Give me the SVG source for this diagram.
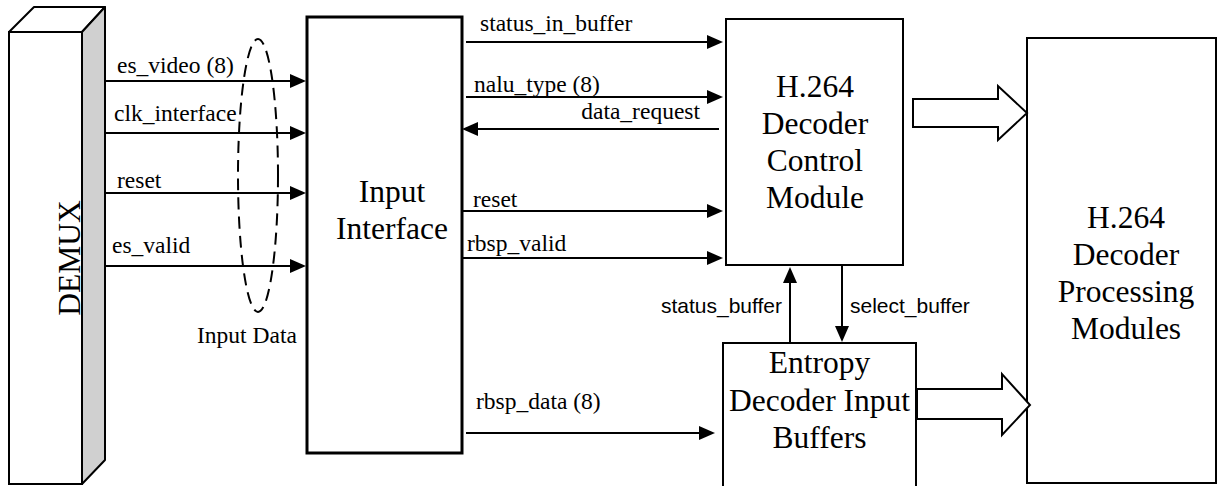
<svg xmlns="http://www.w3.org/2000/svg" width="1219" height="486" viewBox="0 0 1219 486">
  <style>
    .box { fill: #ffffff; stroke: #000000; stroke-width: 2; }
    .thick { stroke-width: 3; }
    .big { font-family: "Liberation Serif", "Times New Roman", serif; font-size: 31.5px; fill: #000; text-anchor: middle; }
    .lbl { font-family: "Liberation Serif", "Times New Roman", serif; font-size: 23.5px; fill: #000; }
    .sans { font-family: "Liberation Sans", Arial, sans-serif; font-size: 21px; fill: #000; }
    .wire { fill: none; stroke: #000; stroke-width: 2; marker-end: url(#arrow); }
    .fat { fill: #ffffff; stroke: #000; stroke-width: 2; stroke-linejoin: miter; }
  </style>
  <defs>
    <marker id="arrow" markerUnits="userSpaceOnUse" markerWidth="16" markerHeight="16" refX="12" refY="7" orient="auto">
      <path d="M0,0 L16,7 L0,14 Z" fill="#000"/>
    </marker>
  </defs>

  <rect width="1219" height="486" fill="#ffffff"/>

  <!-- DEMUX drawn as a 3D bar -->
  <g id="demux">
    <polygon points="9,32 34,7 105,7 82,32" fill="#ffffff" stroke="#000" stroke-width="2" stroke-linejoin="round"/>
    <polygon points="82,32 105,7 105,460 82,484" fill="#d0d0d0" stroke="#000" stroke-width="2" stroke-linejoin="round"/>
    <rect x="9" y="32" width="73" height="452" class="box"/>
    <text class="big" transform="translate(80,258) rotate(-90)">DEMUX</text>
  </g>

  <g id="input-interface">
    <rect x="307" y="17" width="155" height="436" class="box thick"/>
    <text class="big" x="392" y="202">Input</text>
    <text class="big" x="392" y="239">Interface</text>
  </g>

  <g id="control-module">
    <rect x="726" y="19" width="177" height="246" class="box"/>
    <text class="big" x="815" y="97">H.264</text>
    <text class="big" x="815" y="134">Decoder</text>
    <text class="big" x="815" y="171">Control</text>
    <text class="big" x="815" y="208">Module</text>
  </g>

  <g id="input-buffers">
    <rect x="723" y="343" width="193" height="150" class="box"/>
    <text class="big" x="819.5" y="373">Entropy</text>
    <text class="big" x="819.5" y="411">Decoder Input</text>
    <text class="big" x="819.5" y="448">Buffers</text>
  </g>

  <g id="processing-modules">
    <rect x="1027" y="38" width="189" height="445" class="box"/>
    <text class="big" x="1126" y="228">H.264</text>
    <text class="big" x="1126" y="265">Decoder</text>
    <text class="big" x="1126" y="302">Processing</text>
    <text class="big" x="1126" y="339">Modules</text>
  </g>

  <g id="input-data-group">
    <ellipse cx="258" cy="175.5" rx="20" ry="136.5" fill="none" stroke="#000" stroke-width="2" stroke-dasharray="12,7"/>
    <text class="lbl" x="197" y="343">Input Data</text>
  </g>

  <g id="connectors">
    <!-- DEMUX to input interface -->
    <path class="wire" d="M105,81 H302"/>
    <path class="wire" d="M105,133 H302"/>
    <path class="wire" d="M105,193 H302"/>
    <path class="wire" d="M105,266 H302"/>
    <!-- input interface to control module -->
    <path class="wire" d="M466,42 H719"/>
    <path class="wire" d="M466,97 H719"/>
    <path class="wire" d="M719,129 H466"/>
    <path class="wire" d="M463,211 H719"/>
    <path class="wire" d="M463,258 H719"/>
    <!-- input interface to buffers -->
    <path class="wire" d="M466,433 H711"/>
    <!-- control module and buffers -->
    <path class="wire" d="M790,343 V271"/>
    <path class="wire" d="M842,265 V338"/>
    <!-- bus arrows into processing modules -->
    <polygon class="fat" points="913,99 998,99 998,86 1027,113 998,140 998,127 913,127"/>
    <polygon class="fat" points="917,389 1002,389 1002,374 1030,405 1002,435 1002,419 917,419"/>

    <text class="lbl" x="117" y="73">es_video (8)</text>
    <text class="lbl" x="114" y="121">clk_interface</text>
    <text class="lbl" x="117" y="188">reset</text>
    <text class="lbl" x="112" y="253">es_valid</text>
    <text class="lbl" x="480" y="31">status_in_buffer</text>
    <text class="lbl" x="474" y="92">nalu_type (8)</text>
    <text class="lbl" x="700" y="119" text-anchor="end">data_request</text>
    <text class="lbl" x="473" y="207">reset</text>
    <text class="lbl" x="467" y="251">rbsp_valid</text>
    <text class="lbl" x="476" y="409">rbsp_data (8)</text>
    <text class="sans" x="782" y="313" text-anchor="end">status_buffer</text>
    <text class="sans" x="850" y="313">select_buffer</text>
  </g>
</svg>
